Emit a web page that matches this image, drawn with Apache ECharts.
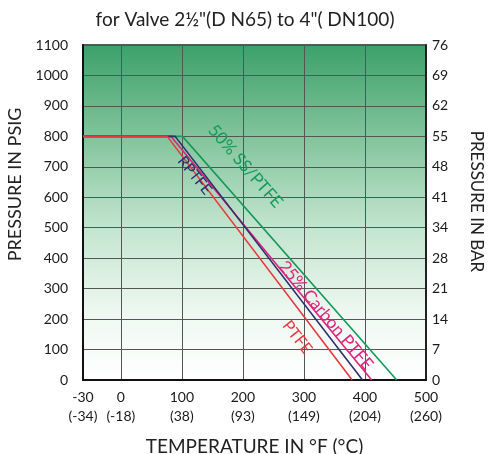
<!DOCTYPE html>
<html><head><meta charset="utf-8">
<script src="https://cdn.jsdelivr.net/npm/echarts@6/dist/echarts.min.js"></script>
<style>html,body{margin:0;padding:0;background:#fff}#c{width:490px;height:454px}</style>
</head><body><div id="c"></div>
<script>
// ---- data ----
const tempTicksF = [-30, 0, 100, 200, 300, 400, 500];
const tempTicksC = [-34, -18, 38, 93, 149, 204, 260];
const psiTicks = [0, 100, 200, 300, 400, 500, 600, 700, 800, 900, 1000, 1100];
const barTicks = [0, 7, 14, 21, 28, 34, 41, 48, 55, 62, 69, 76];
// [temperature F, pressure psig]
const ptfe   = [[-30, 800], [76, 800], [379, 0]];
const rptfe  = [[-30, 800], [89, 800], [396, 0]];
const carbon = [[-30, 800], [82, 800], [411, 0]];
const ss     = [[-30, 800], [101, 800], [452, 0]];

// the chart's temperature axis is broken below 0°F (that short span is stretched)
const BELOW_ZERO_STRETCH = 62 / 30;
function pos(t) { return t < 0 ? t * BELOW_ZERO_STRETCH : t; }
const xPos = tempTicksF.map(pos);

const FONT = 'Lato';
const chart = echarts.init(document.getElementById('c'));

function lineSeries(name, data, color, label, at, rot, fs) {
  return {
    name, type: 'line', data: data.map(d => [pos(d[0]), d[1]]),
    symbol: 'none', silent: true,
    lineStyle: { color, width: 1.6 },
    markPoint: {
      symbol: 'circle', symbolSize: 0, silent: true,
      data: [{ coord: [pos(at[0]), at[1]] }],
      label: { show: true, formatter: label, rotate: rot, color,
               fontSize: fs, fontFamily: FONT, position: 'inside' }
    }
  };
}

chart.setOption({
  animation: false,
  title: {
    text: 'for Valve 2½"(D N65) to 4"( DN100)', left: 'center', top: 5,
    textStyle: { fontFamily: FONT, fontSize: 19, fontWeight: 'normal', color: '#222' }
  },
  grid: {
    left: 83, right: 64, top: 45, bottom: 74, show: true, outerBoundsMode: 'none',
    borderColor: '#222', borderWidth: 1.5,
    backgroundColor: new echarts.graphic.LinearGradient(0, 0, 0, 1, [
      { offset: 0, color: '#3c a06a'.replace(' ', '') },
      { offset: 0.3, color: '#88c7a0' },
      { offset: 0.55, color: '#c4e5cf' },
      { offset: 0.8, color: '#eef8f1' },
      { offset: 1, color: '#ffffff' }
    ])
  },
  xAxis: {
    type: 'value', min: pos(-30), max: 500,
    axisLine: { show: true, onZero: false, lineStyle: { color: '#111', width: 2 } },
    axisTick: { show: false },
    splitLine: { show: true, lineStyle: { color: '#555', width: 1 } },
    axisLabel: {
      customValues: xPos, color: '#1a1a1a', fontSize: 14, fontFamily: FONT, lineHeight: 19, margin: 8,
      formatter: v => { const i = xPos.indexOf(v); return i < 0 ? '' : tempTicksF[i] + '\n(' + tempTicksC[i] + ')'; }
    },
    name: 'TEMPERATURE IN °F (°C)', nameLocation: 'middle', nameGap: 57,
    nameTextStyle: { fontFamily: FONT, fontSize: 19, color: '#222' }
  },
  yAxis: [{
    type: 'value', min: 0, max: 1100, interval: 100,
    axisLine: { show: true, onZero: false, lineStyle: { color: '#111', width: 2 } },
    axisTick: { show: false },
    splitLine: { show: true, lineStyle: { color: '#555', width: 1 } },
    axisLabel: { color: '#1a1a1a', fontSize: 14, fontFamily: FONT, margin: 15, formatter: v => String(v) },
    name: 'PRESSURE IN PSIG', nameLocation: 'middle', nameGap: 52, nameRotate: 90,
    nameTextStyle: { fontFamily: FONT, fontSize: 18, color: '#222', padding: [0, 0, 0, 56] }
  }, {
    type: 'value', min: 0, max: 1100, interval: 100, position: 'right',
    axisLine: { show: true, onZero: false, lineStyle: { color: '#111', width: 1.5 } },
    axisTick: { show: false }, splitLine: { show: false },
    axisLabel: { color: '#1a1a1a', fontSize: 14, fontFamily: FONT, margin: 6,
      formatter: v => { const i = psiTicks.indexOf(v); return i < 0 ? '' : String(barTicks[i]); } },
    name: 'PRESSURE IN BAR', nameLocation: 'middle', nameGap: 42, nameRotate: -90,
    nameTextStyle: { fontFamily: FONT, fontSize: 17, color: '#222', padding: [0, 22, 0, 0] }
  }],
  series: [
    lineSeries('50% SS/PTFE', ss, '#159a5c', '50% SS/PTFE', [204, 702], -49, 17),
    lineSeries('25% Carbon PTFE', carbon, '#e0237c', '25% Carbon PTFE', [336, 212], -50, 17),
    lineSeries('RPTFE', rptfe, '#2d2f6e', 'RPTFE', [121, 672], -51, 15),
    lineSeries('PTFE', ptfe, '#e8383f', 'PTFE', [289, 140], -52, 16)
  ]
});
</script></body></html>
